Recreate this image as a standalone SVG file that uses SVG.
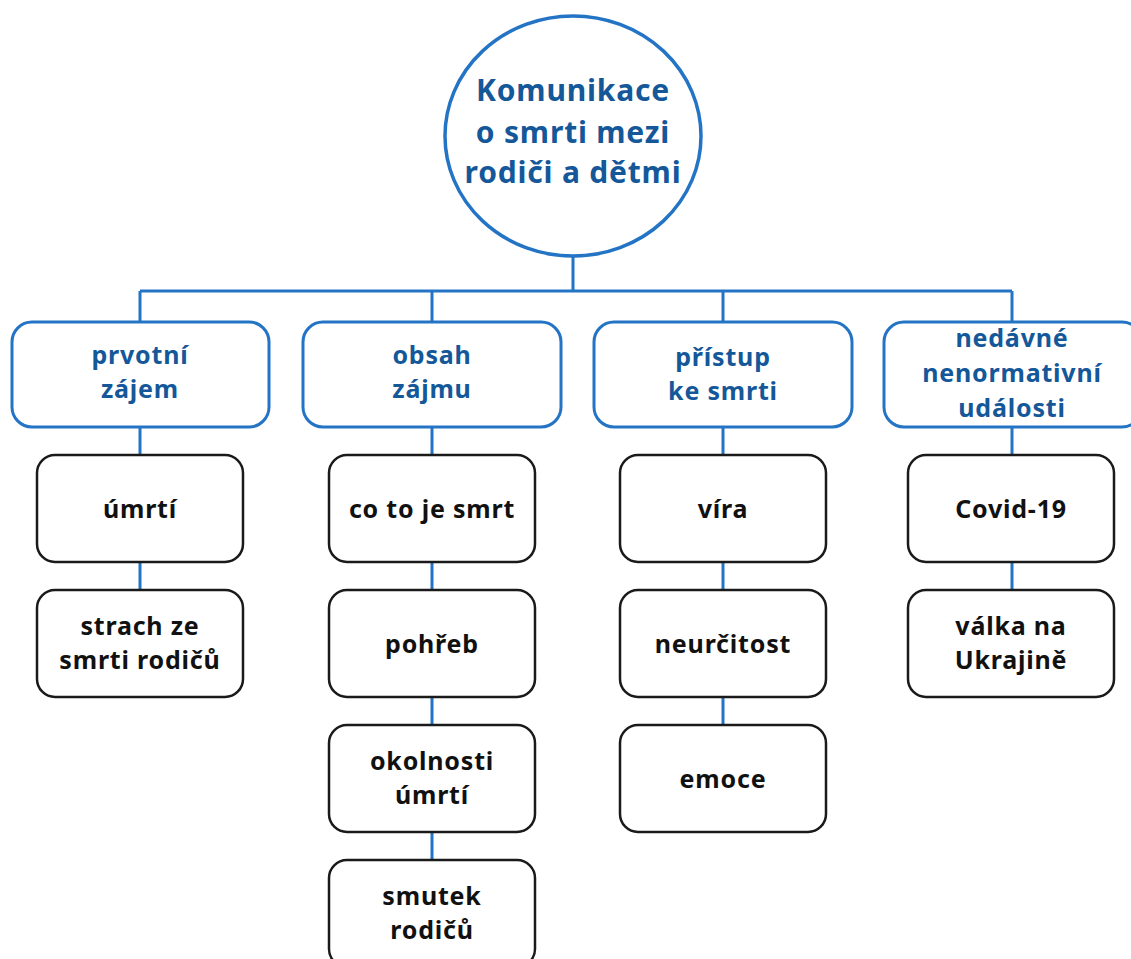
<svg xmlns="http://www.w3.org/2000/svg" width="1131" height="959" viewBox="0 0 1131 959">
<style>
.conn{stroke:#2474c6;stroke-width:3;fill:none}
.cat{fill:#fff;stroke:#2474c6;stroke-width:3}
.leaf{fill:#fff;stroke:#1a1a1a;stroke-width:2.5}
.root{fill:#fff;stroke:#2474c6;stroke-width:3.5}
.tr{font-family:"Noto Sans","Liberation Sans",sans-serif;font-weight:bold;font-size:30px;letter-spacing:0.8px;fill:#14589a;text-anchor:middle}
.tc{font-family:"Noto Sans","Liberation Sans",sans-serif;font-weight:bold;font-size:25px;letter-spacing:0.8px;fill:#14589a;text-anchor:middle}
.tl{font-family:"Noto Sans","Liberation Sans",sans-serif;font-weight:bold;font-size:25px;letter-spacing:0.8px;fill:#111;text-anchor:middle}
</style>
<rect width="1131" height="959" fill="#fff"/>
<g id="connectors">
<path class="conn" d="M573 256V291M140 291H1012M140 291V322M432 291V322M723 291V322M1012 291V322"/>
<path class="conn" d="M140 427V455M140 562V590"/>
<path class="conn" d="M432 427V455M432 562V590M432 697V725M432 832V860"/>
<path class="conn" d="M723 427V455M723 562V590M723 697V725"/>
<path class="conn" d="M1012 427V455M1012 562V590"/>
</g>
<g id="root">
<ellipse class="root" cx="573" cy="136" rx="128" ry="120"/>
<text class="tr" x="573" y="101">Komunikace</text>
<text class="tr" x="573" y="143">o smrti mezi</text>
<text class="tr" x="573" y="183">rodiči a dětmi</text>
</g>
<g id="cat1"><rect class="cat" x="12" y="322" width="257" height="105" rx="20"/>
<text class="tc" x="140" y="364">prvotní</text><text class="tc" x="140" y="398">zájem</text></g>
<g id="cat2"><rect class="cat" x="303" y="322" width="258" height="105" rx="20"/>
<text class="tc" x="432" y="364">obsah</text><text class="tc" x="432" y="398">zájmu</text></g>
<g id="cat3"><rect class="cat" x="594" y="322" width="258" height="105" rx="20"/>
<text class="tc" x="723" y="366">přístup</text><text class="tc" x="723" y="400">ke smrti</text></g>
<g id="cat4"><rect class="cat" x="884" y="322" width="258" height="105" rx="20"/>
<text class="tc" x="1012" y="347">nedávné</text><text class="tc" x="1012" y="382">nenormativní</text><text class="tc" x="1012" y="417">události</text></g>
<g id="leaf-umrti"><rect class="leaf" x="37" y="455" width="206" height="107" rx="18"/><text class="tl" x="140" y="518">úmrtí</text></g>
<g id="leaf-strach"><rect class="leaf" x="37" y="590" width="206" height="107" rx="18"/><text class="tl" x="140" y="635">strach ze</text><text class="tl" x="140" y="669">smrti rodičů</text></g>
<g id="leaf-cotoje"><rect class="leaf" x="329" y="455" width="206" height="107" rx="18"/><text class="tl" x="432" y="518">co to je smrt</text></g>
<g id="leaf-pohreb"><rect class="leaf" x="329" y="590" width="206" height="107" rx="18"/><text class="tl" x="432" y="653">pohřeb</text></g>
<g id="leaf-okolnosti"><rect class="leaf" x="329" y="725" width="206" height="107" rx="18"/><text class="tl" x="432" y="770">okolnosti</text><text class="tl" x="432" y="804">úmrtí</text></g>
<g id="leaf-smutek"><rect class="leaf" x="329" y="860" width="206" height="107" rx="18"/><text class="tl" x="432" y="905">smutek</text><text class="tl" x="432" y="939">rodičů</text></g>
<g id="leaf-vira"><rect class="leaf" x="620" y="455" width="206" height="107" rx="18"/><text class="tl" x="723" y="518">víra</text></g>
<g id="leaf-neurcitost"><rect class="leaf" x="620" y="590" width="206" height="107" rx="18"/><text class="tl" x="723" y="653">neurčitost</text></g>
<g id="leaf-emoce"><rect class="leaf" x="620" y="725" width="206" height="107" rx="18"/><text class="tl" x="723" y="788">emoce</text></g>
<g id="leaf-covid"><rect class="leaf" x="908" y="455" width="206" height="107" rx="18"/><text class="tl" x="1011" y="518">Covid-19</text></g>
<g id="leaf-valka"><rect class="leaf" x="908" y="590" width="206" height="107" rx="18"/><text class="tl" x="1011" y="635">válka na</text><text class="tl" x="1011" y="669">Ukrajině</text></g>
</svg>
